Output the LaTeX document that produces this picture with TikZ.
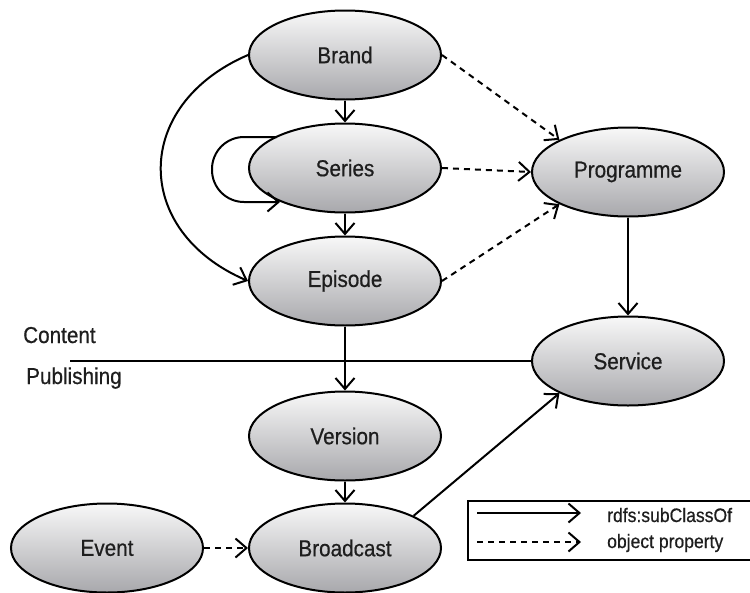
\documentclass[tikz,border=0pt]{standalone}
\usepackage{fontspec}
\setmainfont[FakeStretch=0.9,FakeBold=0.6]{Liberation Sans}
\usetikzlibrary{shapes.geometric,arrows.meta,calc}
\definecolor{topg}{RGB}{248,248,248}
\definecolor{midg}{RGB}{226,226,228}
\definecolor{botg}{RGB}{168,168,172}
\definecolor{txt}{RGB}{30,30,30}
\begin{document}
\begin{tikzpicture}[x=1pt,y=-1pt,
  cls/.style={ellipse,draw,line width=2pt,minimum width=192pt,minimum height=89pt,
    inner sep=0pt,top color=topg,middle color=midg,bottom color=botg,text=txt,
    font=\fontsize{23}{26}\selectfont},
  sub/.style={line width=2pt,-{Straight Barb[length=11pt,width=19pt]}},
  prop/.style={sub,dash pattern=on 6pt off 5pt},
  lbl/.style={font=\fontsize{23}{26}\selectfont,text=txt,inner sep=0pt,anchor=base west},
  leg/.style={font=\fontsize{19.5}{22}\selectfont,text=txt,inner sep=0pt,anchor=base west}]
\useasboundingbox (0,0) rectangle (750,592);

\node[cls] (brand) at (345,55) {Brand};
\node[cls] (series) at (345,168) {Series};
\node[cls] (episode) at (345,281) {Episode};
\node[cls] (version) at (345,436) {Version};
\node[cls] (broadcast) at (345,548) {Broadcast};
\node[cls] (event) at (107,548) {Event};
\node[cls] (programme) at (628,172) {Programme};
\node[cls] (service) at (628,361) {Service};

% content / publishing divider
\coordinate (divL) at (70,361);
\draw[line width=2pt] (divL) -- (service.west);
\node[lbl] (content) at (23,343) {Content};
\node[lbl] (publishing) at (26,384) {Publishing};

% subclass connectors
\draw[sub] (brand) -- (series);
\draw[sub] (series) -- (episode);
\draw[sub] (episode) -- (version);
\draw[sub] (version) -- (broadcast);
\draw[sub] (programme) -- (service);
\draw[sub] (broadcast.north east) -- (service.south west);
\draw[sub] (brand.west) .. controls +(-116,50) and +(-116,-50) .. (episode.west);
\draw[sub,rounded corners=32pt] ($(series.center)+(-68,-31)$) -- ($(series.center)+(-133,-31)$)
  -- ($(series.center)+(-133,34)$) -- ($(series.center)+(-65,34)$);

% object properties
\draw[prop] (brand.east) -- (programme.north west);
\draw[prop] (series.east) -- (programme.west);
\draw[prop] (episode.east) -- (programme.south west);
\draw[prop] (event) -- (broadcast);

% legend
\node[draw,line width=2pt,minimum width=292pt,minimum height=59pt,inner sep=0pt,anchor=north west] (legend) at (467,500) {};
\coordinate (l1a) at (477,513);
\coordinate (l1b) at (581,513);
\coordinate (l2a) at (477,542);
\coordinate (l2b) at (581,542);
\draw[sub] (l1a) -- (l1b);
\draw[prop] (l2a) -- (l2b);
\node[leg] (legsub) at (607,522) {rdfs:subClassOf};
\node[leg] (legprop) at (607,548) {object property};
\end{tikzpicture}
\end{document}
